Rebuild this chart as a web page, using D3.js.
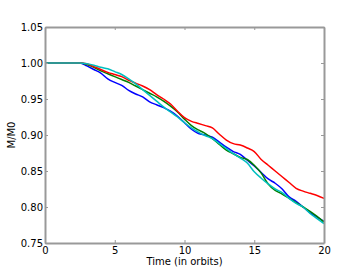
<!DOCTYPE html>
<html>
<head>
<meta charset="utf-8">
<script src="https://cdn.jsdelivr.net/npm/d3@7"></script>
<style>
  body { margin: 0; background: #fff; }
  text { font-family: "DejaVu Sans", sans-serif; }
</style>
</head>
<body>
<div id="chart"></div>
<script>
// time in orbits, sampled every half orbit
var times = d3.range(0, 20.5, 0.5);

var blue_vals = [1,1,1,1,1,1, 0.996,0.991,0.986,0.978,0.973,0.969,0.962,0.957,0.953,0.946,0.942,0.938,0.933,0.926,
  0.917,0.908,0.902,0.900,0.897,0.890,0.883,0.877,0.873,0.865,0.857,0.848,0.839,0.833,0.825,0.814,0.808,0.800,0.792,0.786,0.780];
var green_vals = [1,1,1,1,1,1, 0.998,0.994,0.989,0.985,0.981,0.977,0.973,0.968,0.963,0.958,0.953,0.947,0.940,0.932,
  0.922,0.913,0.907,0.902,0.895,0.887,0.879,0.874,0.869,0.866,0.858,0.847,0.832,0.823,0.818,0.812,0.806,0.800,0.794,0.787,0.779];
var red_vals = [1,1,1,1,1,1, 0.999,0.995,0.991,0.987,0.984,0.981,0.976,0.972,0.968,0.963,0.956,0.950,0.943,0.933,
  0.924,0.919,0.916,0.913,0.910,0.901,0.893,0.888,0.886,0.882,0.877,0.866,0.858,0.850,0.842,0.834,0.826,0.822,0.819,0.816,0.812];
var cyan_vals = [1,1,1,1,1,1, 0.999,0.997,0.994,0.992,0.988,0.984,0.978,0.971,0.963,0.955,0.947,0.939,0.932,0.925,
  0.917,0.910,0.904,0.899,0.895,0.888,0.881,0.874,0.868,0.861,0.849,0.840,0.832,0.825,0.820,0.812,0.805,0.800,0.791,0.784,0.777];

var series = [
  {name: "blue", color: "#0000ff", vals: blue_vals},
  {name: "green", color: "#008000", vals: green_vals},
  {name: "red", color: "#ff0000", vals: red_vals},
  {name: "cyan", color: "#00bfbf", vals: cyan_vals}
];

var x_ticks = [0, 5, 10, 15, 20];
var y_ticks = [0.75, 0.80, 0.85, 0.90, 0.95, 1.00, 1.05];

var width = 360, height = 270,
    margin = {top: 27, right: 36, bottom: 27, left: 45};

var svg = d3.select("#chart").append("svg")
    .attr("width", width)
    .attr("height", height);

var x = d3.scaleLinear().domain([0, 20]).range([margin.left, width - margin.right]);
var y = d3.scaleLinear().domain([0.75, 1.05]).range([height - margin.bottom, margin.top]);

var line = d3.line()
    .x(function(d, i) { return x(times[i]); })
    .y(function(d) { return y(d); })
    .curve(d3.curveMonotoneX);

svg.append("g").selectAll("path")
  .data(series)
  .enter().append("path")
    .attr("d", function(d) { return line(d.vals); })
    .attr("fill", "none")
    .attr("stroke", function(d) { return d.color; })
    .attr("stroke-width", 1.5);

// axes, ticks pointing inward
var fmt = d3.format(".2f");
var bottom = svg.append("g")
    .attr("transform", "translate(0," + (height - margin.bottom) + ")")
    .call(d3.axisBottom(x).tickValues(x_ticks).tickSize(-3).tickSizeOuter(0).tickPadding(4));
var left = svg.append("g")
    .attr("transform", "translate(" + margin.left + ",0)")
    .call(d3.axisLeft(y).tickValues(y_ticks).tickFormat(fmt).tickSize(-3).tickSizeOuter(0).tickPadding(2));
var top_ax = svg.append("g")
    .attr("transform", "translate(0," + margin.top + ")")
    .call(d3.axisTop(x).tickValues(x_ticks).tickSize(-3).tickSizeOuter(0).tickFormat(""));
var right = svg.append("g")
    .attr("transform", "translate(" + (width - margin.right) + ",0)")
    .call(d3.axisRight(y).tickValues(y_ticks).tickSize(-3).tickSizeOuter(0).tickFormat(""));

svg.selectAll(".domain").attr("stroke", "#999").attr("stroke-width", 2);
svg.selectAll(".tick line").attr("stroke", "#999");
svg.selectAll(".tick text")
    .attr("fill", "#000")
    .style("font-size", "10px")
    .style("font-family", "DejaVu Sans");

svg.append("text")
    .attr("x", x(10))
    .attr("y", 265)
    .attr("text-anchor", "middle")
    .style("font-size", "10px")
    .text("Time (in orbits)");

svg.append("text")
    .attr("transform", "translate(15," + y(0.90) + ") rotate(-90)")
    .attr("text-anchor", "middle")
    .style("font-size", "10px")
    .text("M/M0");
</script>
</body>
</html>
